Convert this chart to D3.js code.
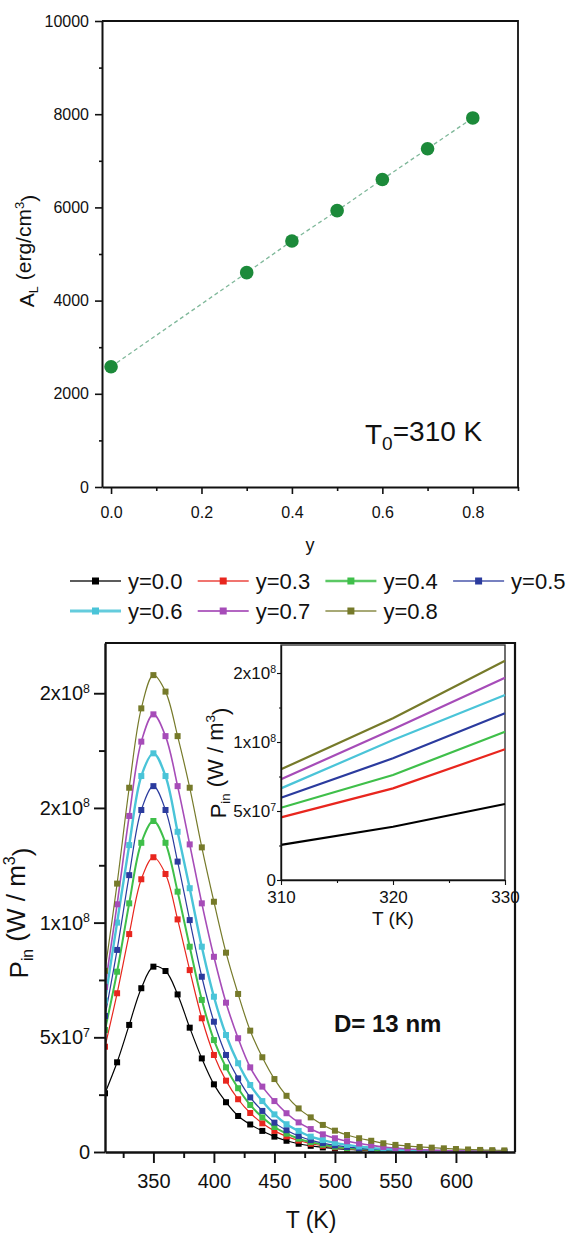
<!DOCTYPE html>
<html>
<head>
<meta charset="utf-8">
<script src="https://cdnjs.cloudflare.com/ajax/libs/d3/7.8.5/d3.min.js"></script>
<style>
    body { margin: 0; background: #fff; }
    text { font-family: "Liberation Sans", Arial, sans-serif; fill: #111; }
</style>
</head>
<body>
<script>
// top panel: A_L against y
var yFraction = [0.0, 0.3, 0.4, 0.5, 0.6, 0.7, 0.8];
var anisotropy = [2580, 4600, 5280, 5930, 6600, 7260, 7920];
var topXTicks = [0, 0.2, 0.4, 0.6, 0.8];
var topXMinor = [0.1, 0.3, 0.5, 0.7, 0.9];
var topYTicks = [0, 2000, 4000, 6000, 8000, 10000];
var topYMinor = [1000, 3000, 5000, 7000, 9000];

// bottom panel: P_in against T, values in units of 1e7 W/m3
var temps = [310, 320, 330, 340, 350, 360, 370, 380, 390, 400, 410, 420, 430, 440, 450, 460, 470,
             480, 490, 500, 510, 520, 530, 540, 550, 560, 570, 580, 590, 600, 610, 620, 630, 640];
var seriesNames = ["y=0.0", "y=0.3", "y=0.4", "y=0.5", "y=0.6", "y=0.7", "y=0.8"];
var seriesColors = ["#000000", "#e8261e", "#3fbf4a", "#2b3b9e", "#4ac4d8", "#a64cb8", "#767a2a"];
var seriesWidths = [1.2, 1.2, 2, 1.2, 2.4, 1.6, 1.2];
var p00 = [2.56, 3.91, 5.54, 7.14, 8.08, 7.89, 6.87, 5.42, 4.08, 2.95, 2.17, 1.57, 1.2, 0.92, 0.67, 0.49, 0.36,
           0.27, 0.2, 0.15, 0.11, 0.08, 0.06, 0.045, 0.033, 0.025, 0.018, 0.013, 0.01, 0.007, 0.005, 0.004, 0.003, 0.002];
var p03 = [4.59, 6.92, 9.5, 11.89, 12.85, 12.12, 10.14, 7.93, 5.83, 4.23, 3.11, 2.3, 1.7, 1.25, 0.92, 0.68, 0.5,
           0.36, 0.27, 0.2, 0.14, 0.1, 0.08, 0.06, 0.04, 0.03, 0.022, 0.016, 0.012, 0.009, 0.007, 0.005, 0.004, 0.003];
var p04 = [5.32, 7.86, 10.84, 13.48, 14.43, 13.48, 11.35, 8.95, 6.63, 4.88, 3.69, 2.78, 2.05, 1.51, 1.09, 0.8, 0.58,
           0.43, 0.32, 0.23, 0.17, 0.13, 0.09, 0.07, 0.05, 0.04, 0.03, 0.022, 0.016, 0.012, 0.009, 0.007, 0.005, 0.004];
var p05 = [5.93, 8.81, 12.07, 14.91, 15.95, 14.91, 12.66, 10.11, 7.64, 5.68, 4.23, 3.21, 2.38, 1.79, 1.28, 0.95, 0.7,
           0.52, 0.39, 0.29, 0.22, 0.16, 0.12, 0.09, 0.07, 0.05, 0.04, 0.03, 0.022, 0.017, 0.013, 0.01, 0.008, 0.006];
var p06 = [6.6, 10.0, 13.38, 16.39, 17.38, 16.39, 13.96, 11.5, 8.95, 6.77, 5.1, 3.87, 2.92, 2.22, 1.64, 1.21, 0.92,
           0.67, 0.52, 0.4, 0.31, 0.24, 0.18, 0.14, 0.11, 0.08, 0.06, 0.05, 0.04, 0.03, 0.025, 0.02, 0.015, 0.012];
var p07 = [7.2, 10.8, 14.65, 17.89, 19.08, 18.13, 15.95, 13.41, 10.84, 8.51, 6.51, 4.96, 3.69, 2.85, 2.22, 1.69, 1.29,
           1.0, 0.77, 0.6, 0.47, 0.37, 0.29, 0.22, 0.17, 0.13, 0.1, 0.08, 0.06, 0.05, 0.04, 0.03, 0.025, 0.02];
var p08 = [7.9, 11.7, 15.88, 19.34, 20.79, 20.07, 18.13, 15.88, 13.28, 10.91, 8.69, 6.89, 5.29, 4.13, 3.18, 2.45, 1.9,
           1.51, 1.18, 0.93, 0.74, 0.6, 0.49, 0.38, 0.31, 0.26, 0.22, 0.19, 0.16, 0.13, 0.11, 0.09, 0.08, 0.07];
var mainSeries = [p00, p03, p04, p05, p06, p07, p08];
var mainXTicks = [350, 400, 450, 500, 550, 600];
var mainXMinor = [325, 375, 425, 475, 525, 575, 625];
var mainYTicks = [0, 5, 10, 15, 20];
var mainYMinor = [2.5, 7.5, 12.5, 17.5];
var mainYLabels = [["0", ""], ["5x10", "7"], ["1x10", "8"], ["2x10", "8"], ["2x10", "8"]];

// inset, 310-330 K
var insetTemps = [310, 320, 330];
var i00 = [2.54, 3.86, 5.51];
var i03 = [4.54, 6.64, 9.47];
var i04 = [5.24, 7.61, 10.75];
var i05 = [5.96, 8.82, 12.08];
var i06 = [6.64, 10.14, 13.41];
var i07 = [7.3, 10.92, 14.66];
var i08 = [8.02, 11.72, 15.89];
var insetSeries = [i00, i03, i04, i05, i06, i07, i08];
var insetXTicks = [310, 320, 330];
var insetXMinor = [315, 325];
var insetYTicks = [0, 5, 10, 15];
var insetYMinor = [2.5, 7.5, 12.5];

var svg = d3.select("body").append("svg")
    .attr("width", 574)
    .attr("height", 1233);

drawTopPanel(svg);
drawLegend(svg);
drawMainPanel(svg);
drawInset(svg);

function styleAxis(g, w) {
    g.select(".domain").attr("stroke", "#111").attr("stroke-width", w);
    g.selectAll(".tick line").attr("stroke", "#111").attr("stroke-width", w * 0.8);
    g.selectAll(".tick text").attr("fill", "#111");
}

function powerLabels(g, labels) {
    g.selectAll(".tick text").each(function (d, i) {
        var t = d3.select(this).text(null);
        t.append("tspan").text(labels[i][0]);
        if (labels[i][1]) {
            t.append("tspan").attr("dy", "-0.6em").attr("font-size", "0.62em").text(labels[i][1]);
        }
    });
}

// rotated axis title with a subscript and a cubed unit
function unitLabel(svg, tx, ty, size, main, sub, unit) {
    var label = svg.append("text")
        .attr("transform", "translate(" + tx + "," + ty + ") rotate(-90)")
        .attr("text-anchor", "middle")
        .attr("font-size", size);
    label.append("tspan").text(main);
    label.append("tspan").attr("dy", "0.3em").attr("font-size", "0.6em").text(sub);
    label.append("tspan").attr("dy", "-0.3em").text(unit);
    label.append("tspan").attr("dy", "-0.6em").attr("font-size", "0.62em").text("3");
    label.append("tspan").attr("dy", "0.6em").text(")");
}

function drawTopPanel(svg) {
    var x = d3.scaleLinear().domain([-0.02, 0.9]).range([102, 518]);
    var y = d3.scaleLinear().domain([0, 10000]).range([487, 21]);

    svg.append("path")
        .attr("d", "M102,21H518V487")
        .attr("fill", "none").attr("stroke", "#111").attr("stroke-width", 1.8);

    var gx = svg.append("g").attr("transform", "translate(0,487)")
        .call(d3.axisBottom(x).tickValues(topXTicks).tickFormat(d3.format(".1f")).tickSize(7).tickSizeOuter(0));
    gx.selectAll(".tick text").attr("y", 31).attr("dy", 0).attr("font-size", 16);
    styleAxis(gx, 2);
    var gxm = svg.append("g").attr("transform", "translate(0,487)")
        .call(d3.axisBottom(x).tickValues(topXMinor).tickFormat("").tickSize(4));
    gxm.select(".domain").remove();
    styleAxis(gxm, 2);

    var gy = svg.append("g").attr("transform", "translate(102,0)")
        .call(d3.axisLeft(y).tickValues(topYTicks).tickFormat(d3.format("d")).tickSize(7).tickSizeOuter(0));
    gy.selectAll(".tick text").attr("x", -13).attr("font-size", 16);
    styleAxis(gy, 2);
    var gym = svg.append("g").attr("transform", "translate(102,0)")
        .call(d3.axisLeft(y).tickValues(topYMinor).tickFormat("").tickSize(3));
    gym.select(".domain").remove();
    styleAxis(gym, 2);

    var line = d3.line()
        .x(function (d, i) { return x(yFraction[i]); })
        .y(function (d) { return y(d); });

    svg.append("path")
        .attr("d", line(anisotropy))
        .attr("fill", "none")
        .attr("stroke", "#7fb89a")
        .attr("stroke-width", 1.3)
        .attr("stroke-dasharray", "4,3");

    svg.selectAll("circle.al").data(anisotropy).enter().append("circle")
        .attr("class", "al")
        .attr("cx", function (d, i) { return x(yFraction[i]); })
        .attr("cy", function (d) { return y(d); })
        .attr("r", 6.8)
        .attr("fill", "#1c8a3a");

    unitLabel(svg, 34, 251, 21, "A", "L", " (erg/cm");

    svg.append("text").attr("x", 310).attr("y", 551)
        .attr("text-anchor", "middle").attr("font-size", 18).text("y");

    var t0 = svg.append("text").attr("x", 365).attr("y", 444).attr("font-size", 28);
    t0.append("tspan").text("T");
    t0.append("tspan").attr("dy", "0.3em").attr("font-size", "0.68em").text("0");
    t0.append("tspan").attr("dy", "-0.3em").text("=310 K");
}

function drawLegend(svg) {
    var rowY = [581, 611];
    seriesNames.forEach(function (name, i) {
        var row = i < 4 ? 0 : 1;
        var col = i < 4 ? i : i - 4;
        var x0 = 70 + col * 127.7;
        var yy = rowY[row];
        svg.append("line")
            .attr("x1", x0).attr("x2", x0 + 51)
            .attr("y1", yy).attr("y2", yy)
            .attr("stroke", seriesColors[i])
            .attr("stroke-width", seriesWidths[i] + 0.4)
            .attr("opacity", 0.85);
        svg.append("rect")
            .attr("x", x0 + 25.5 - 3.5).attr("y", yy - 3.5)
            .attr("width", 7).attr("height", 7)
            .attr("fill", seriesColors[i]);
        svg.append("text")
            .attr("x", x0 + 58).attr("y", yy + 8)
            .attr("font-size", 22)
            .text(name);
    });
}

function drawMainPanel(svg) {
    var x = d3.scaleLinear().domain([310, 648.8]).range([105, 515]);
    var y = d3.scaleLinear().domain([0, 22.19]).range([1152, 643]);

    svg.append("clipPath").attr("id", "mainClip")
        .append("rect").attr("x", 105).attr("y", 643).attr("width", 410).attr("height", 509);

    svg.append("path")
        .attr("d", "M105,643H515V1152")
        .attr("fill", "none").attr("stroke", "#111").attr("stroke-width", 2.2);

    var line = d3.line()
        .curve(d3.curveCatmullRom)
        .x(function (d, i) { return x(temps[i]); })
        .y(function (d) { return y(d); });

    var plot = svg.append("g").attr("clip-path", "url(#mainClip)");
    mainSeries.forEach(function (values, k) {
        plot.append("path")
            .attr("d", line(values))
            .attr("fill", "none")
            .attr("stroke", seriesColors[k])
            .attr("stroke-width", seriesWidths[k]);
        plot.selectAll("rect.s" + k).data(values).enter().append("rect")
            .attr("class", "s" + k)
            .attr("x", function (d, i) { return x(temps[i]) - 3; })
            .attr("y", function (d) { return y(d) - 3; })
            .attr("width", 6).attr("height", 6)
            .attr("fill", seriesColors[k]);
    });

    var gx = svg.append("g").attr("transform", "translate(0,1152)")
        .call(d3.axisBottom(x).tickValues(mainXTicks).tickSize(11).tickSizeOuter(0));
    gx.selectAll(".tick text").attr("y", 36).attr("dy", 0).attr("font-size", 20);
    styleAxis(gx, 2.4);
    var gxm = svg.append("g").attr("transform", "translate(0,1152)")
        .call(d3.axisBottom(x).tickValues(mainXMinor).tickFormat("").tickSize(6));
    gxm.select(".domain").remove();
    styleAxis(gxm, 2.4);

    var gy = svg.append("g").attr("transform", "translate(105,0)")
        .call(d3.axisLeft(y).tickValues(mainYTicks).tickSize(11).tickSizeOuter(0));
    gy.selectAll(".tick text").attr("x", -15).attr("font-size", 20);
    powerLabels(gy, mainYLabels);
    styleAxis(gy, 2.4);
    var gym = svg.append("g").attr("transform", "translate(105,0)")
        .call(d3.axisLeft(y).tickValues(mainYMinor).tickFormat("").tickSize(6));
    gym.select(".domain").remove();
    styleAxis(gym, 2.4);

    unitLabel(svg, 28, 913, 26, "P", "in", " (W / m");

    svg.append("text").attr("x", 311).attr("y", 1228)
        .attr("text-anchor", "middle").attr("font-size", 23).text("T (K)");

    svg.append("text").attr("x", 334).attr("y", 1032)
        .attr("font-size", 24).attr("font-weight", "bold").text("D= 13 nm");
}

function drawInset(svg) {
    var x = d3.scaleLinear().domain([310, 330]).range([281, 505]);
    var y = d3.scaleLinear().domain([0, 17.03]).range([880, 645]);

    svg.append("rect")
        .attr("x", 281).attr("y", 645).attr("width", 224).attr("height", 235)
        .attr("fill", "#fff").attr("stroke", "#333").attr("stroke-width", 1.4);

    var line = d3.line()
        .x(function (d, i) { return x(insetTemps[i]); })
        .y(function (d) { return y(d); });

    insetSeries.forEach(function (values, k) {
        svg.append("path")
            .attr("d", line(values))
            .attr("fill", "none")
            .attr("stroke", seriesColors[k])
            .attr("stroke-width", 2.2);
    });

    var gx = svg.append("g").attr("transform", "translate(0,880)")
        .call(d3.axisBottom(x).tickValues(insetXTicks).tickFormat(d3.format("d")).tickSize(5).tickSizeOuter(0));
    gx.selectAll(".tick text").attr("y", 23).attr("dy", 0).attr("font-size", 17);
    styleAxis(gx, 1.4);
    var gxm = svg.append("g").attr("transform", "translate(0,880)")
        .call(d3.axisBottom(x).tickValues(insetXMinor).tickFormat("").tickSize(3));
    gxm.select(".domain").remove();
    styleAxis(gxm, 1.4);

    var gy = svg.append("g").attr("transform", "translate(281,0)")
        .call(d3.axisLeft(y).tickValues(insetYTicks).tickSize(4).tickSizeOuter(0));
    gy.selectAll(".tick text").attr("x", -5).attr("font-size", 17);
    powerLabels(gy, mainYLabels);
    styleAxis(gy, 1.4);
    var gym = svg.append("g").attr("transform", "translate(281,0)")
        .call(d3.axisLeft(y).tickValues(insetYMinor).tickFormat("").tickSize(2));
    gym.select(".domain").remove();
    styleAxis(gym, 1.4);

    unitLabel(svg, 226, 763, 22, "P", "in", " (W / m");

    svg.append("text").attr("x", 393).attr("y", 925)
        .attr("text-anchor", "middle").attr("font-size", 19).text("T (K)");
}
</script>
</body>
</html>
